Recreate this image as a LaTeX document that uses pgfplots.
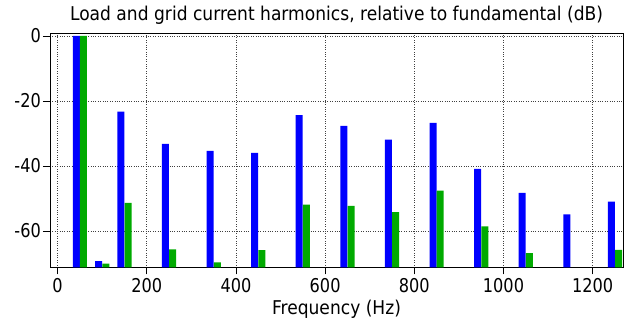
\documentclass[border=0pt]{standalone}
\usepackage{fontspec}
\setmainfont{DejaVu Sans}[FakeStretch=0.90]
\newfontfamily\tickfont{DejaVu Sans}[FakeStretch=0.85]
\usepackage{pgfplots}
\pgfplotsset{compat=1.18}
\definecolor{barblue}{RGB}{0,0,255}
\definecolor{bargreen}{RGB}{0,170,0}
\begin{document}
\begin{tikzpicture}
\begin{axis}[
  scale only axis, width=573bp, height=234bp,
  xmin=-17, xmax=1268, ymin=-71.2, ymax=0.8,
  y coord trafo/.code={\pgfmathparse{#1+80}},
  y coord inv trafo/.code={\pgfmathparse{#1-80}},
  xtick={0,200,400,600,800,1000,1200}, ytick={-60,-40,-20,0},
  tick align=outside, xtick pos=lower, ytick pos=left,
  major tick length=7bp,
  tick style={black, line width=0.8pt},
  axis line style={line width=0.8pt},
  grid=major, grid style={black!75, dotted, line width=0.8pt},
  font=\fontsize{19bp}{21bp}\selectfont,
  tick label style={font=\tickfont\fontsize{19bp}{21bp}\selectfont},
  yticklabel style={inner sep=2bp},
  xticklabel style={inner sep=4bp},
  /pgf/number format/assume math mode=true,
  /pgf/number format/1000 sep={},
  yticklabel={\pgfmathprintnumber{\tick}},
  title={Load and grid current harmonics, relative to fundamental (dB)},
  title style={at={(axis description cs:0.5,1)}, anchor=base, yshift=7.3bp, inner sep=0pt},
  xlabel={Frequency (Hz)},
  xlabel style={at={(axis description cs:0.5,0)}, anchor=base, yshift=-47.2bp, inner sep=0pt},
  ybar, bar width=7bp,
]
\addplot[fill=barblue, draw=none, bar shift=-3.6bp] coordinates {
  (50,0) (100,-69.3) (150,-23.3) (250,-33.2) (350,-35.4) (450,-36.0) (550,-24.4)
  (650,-27.7) (750,-31.9) (850,-26.8) (950,-40.9) (1050,-48.3) (1150,-54.9) (1250,-51.0)
};
\addplot[fill=bargreen, draw=none, bar shift=3.6bp] coordinates {
  (50,0) (100,-70.1) (150,-51.4) (250,-65.7) (350,-69.7) (450,-65.9) (550,-51.9)
  (650,-52.3) (750,-54.2) (850,-47.6) (950,-58.6) (1050,-66.8) (1250,-65.8)
};
\end{axis}
\pgfresetboundingbox
\path (-50bp,-52.7bp) rectangle (577bp,267.3bp);
\end{tikzpicture}
\end{document}
